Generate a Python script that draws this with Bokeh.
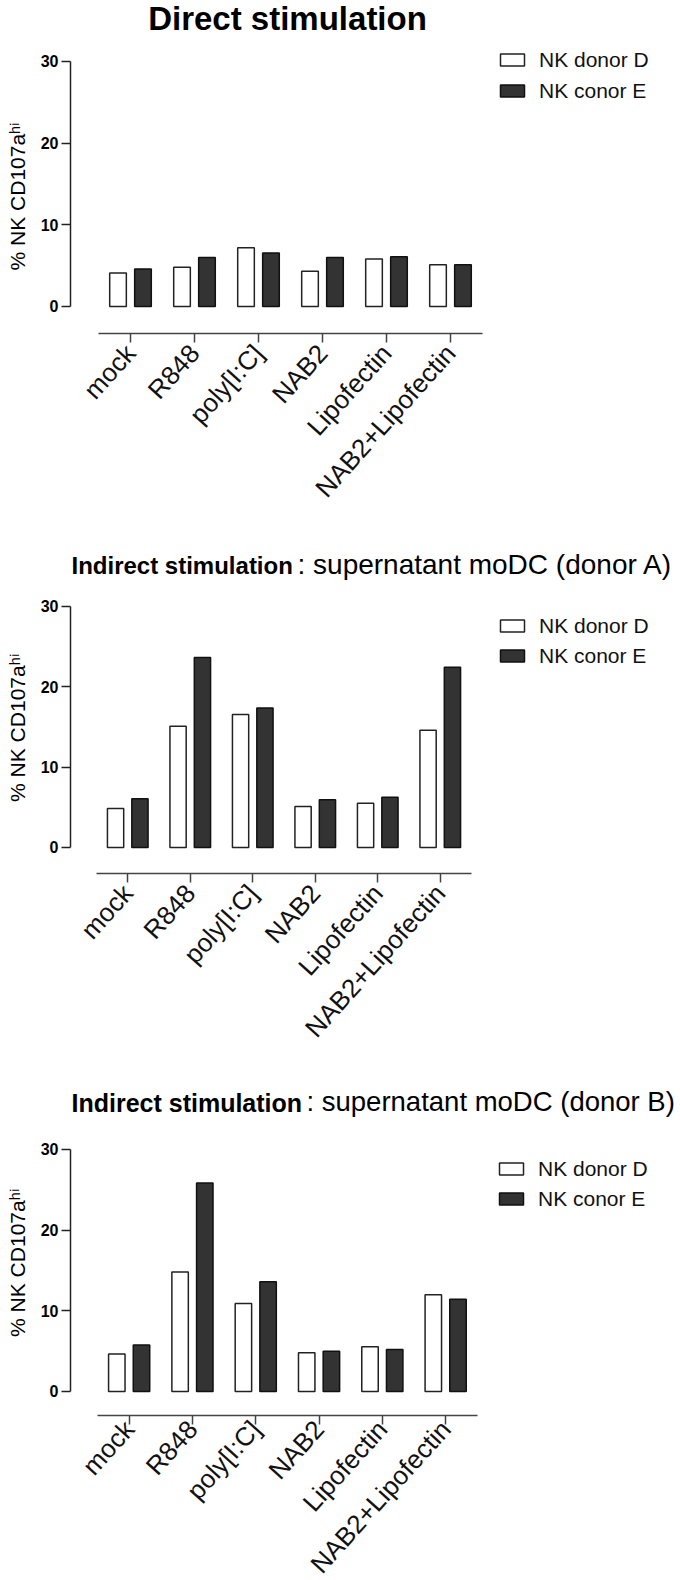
from math import pi
from bokeh.plotting import figure
from bokeh.models import Range1d, FixedTicker, Label, ColumnDataSource
from bokeh.transform import dodge
from bokeh.layouts import column
from bokeh.embed import file_html
from bokeh.resources import INLINE

# ---------------- data ----------------
categories = ["mock", "R848", "poly[I:C]", "NAB2", "Lipofectin", "NAB2+Lipofectin"]
series_names = ["NK donor D", "NK conor E"]
y_ticks = [0, 10, 20, 30]
y_label = "% NK CD107a\u02b0\u2071"

direct_donor_d = [4.1, 4.8, 7.2, 4.3, 5.8, 5.1]
direct_donor_e = [4.6, 6.0, 6.55, 6.0, 6.1, 5.1]

indirect_a_donor_d = [4.85, 15.1, 16.55, 5.1, 5.5, 14.6]
indirect_a_donor_e = [6.05, 23.65, 17.35, 5.95, 6.25, 22.45]

indirect_b_donor_d = [4.65, 14.8, 10.9, 4.8, 5.55, 12.0]
indirect_b_donor_e = [5.75, 25.85, 13.6, 5.0, 5.2, 11.45]

title_direct = "Direct stimulation"
title_bold = "Indirect stimulation"
title_a_rest = ": supernatant moDC (donor A)"
title_b_rest = ": supernatant moDC (donor B)"

FONT = "Liberation Sans"
DARK = "#333333"
LINE = "#222222"
W = 680
LEFT = 70
NBSP = "\u00a0"

# category centres on a numeric axis (same convention as a factor range)
centres = [i + 0.5 for i in range(len(categories))]


def make_panel(d_vals, e_vals, *, frame_h, x0, x1, y0, y1, bt, bb, lab_gap,
               label_pad, leg_x, leg_y, leg_spacing):
    src = ColumnDataSource(dict(x=centres, d=d_vals, e=e_vals))
    p = figure(
        x_range=Range1d(x0, x1), y_range=Range1d(y0, y1),
        frame_width=W - LEFT, frame_height=frame_h,
        min_border_left=LEFT, min_border_right=0,
        min_border_top=bt, min_border_bottom=bb,
        output_backend="svg", toolbar_location=None,
    )
    p.vbar(x=dodge("x", -0.195), top="d", width=0.26, source=src,
           fill_color="white", line_color=LINE, line_width=1.5,
           legend_label=series_names[0])
    p.vbar(x=dodge("x", 0.195), top="e", width=0.26, source=src,
           fill_color=DARK, line_color="#111111", line_width=1.5,
           legend_label=series_names[1])

    p.xgrid.visible = False
    p.ygrid.visible = False
    p.outline_line_color = None

    ya = p.yaxis[0]
    ya.ticker = FixedTicker(ticks=y_ticks)
    ya.bounds = (0, 30)
    ya.major_tick_out = 9
    ya.major_tick_in = 0
    ya.minor_tick_line_color = None
    ya.axis_line_width = 1.5
    ya.axis_line_color = LINE
    ya.major_tick_line_width = 1.5
    ya.major_tick_line_color = LINE
    ya.major_label_text_font = FONT
    ya.major_label_text_font_style = "bold"
    ya.major_label_text_font_size = "16px"
    ya.major_label_text_color = "black"
    ya.major_label_standoff = 3
    # trailing no-break spaces keep the label centred on the 0-30 axis span
    ya.axis_label = y_label + NBSP * label_pad
    ya.axis_label_text_font = FONT
    ya.axis_label_text_font_style = "normal"
    ya.axis_label_text_font_size = "21px"
    ya.axis_label_text_color = "black"
    ya.axis_label_standoff = 9

    xa = p.xaxis[0]
    xa.ticker = FixedTicker(ticks=centres)
    xa.major_label_overrides = {c: name for c, name in zip(centres, categories)}
    xa.bounds = (0, len(categories))
    xa.minor_tick_line_color = None
    xa.major_tick_out = 9
    xa.major_tick_in = 0
    xa.axis_line_width = 1.5
    xa.axis_line_color = "#444444"
    xa.major_tick_line_width = 1.5
    xa.major_tick_line_color = "#444444"
    xa.major_label_orientation = 48 * pi / 180
    xa.major_label_text_font = FONT
    xa.major_label_text_font_size = "26px"
    xa.major_label_text_color = "#111111"
    xa.major_label_standoff = lab_gap

    lg = p.legend[0]
    lg.glyph_width = 30
    lg.glyph_height = 15
    lg.label_height = 26
    lg.label_standoff = 12
    lg.spacing = leg_spacing
    lg.padding = 0
    lg.margin = 0
    lg.border_line_color = None
    lg.background_fill_alpha = 0
    lg.label_text_font = FONT
    lg.label_text_font_size = "21px"
    lg.label_text_color = "#111111"
    lg.location = (leg_x, leg_y)
    return p


def add_label(p, x, y, text, size, style, align):
    p.add_layout(Label(x=x, y=y, x_units="screen", y_units="screen", text=text,
                       text_font=FONT, text_font_size=size, text_font_style=style,
                       text_align=align, text_baseline="alphabetic", text_color="black"))


# Panel 1 : figure 0..512, frame 0..333 (page px)
p1 = make_panel(direct_donor_d, direct_donor_e, frame_h=333,
                x0=-0.4375, x1=9.094, y0=-3.31, y1=37.47, bt=0, bb=179, lab_gap=6,
                label_pad=10, leg_x=427, leg_y=229.5, leg_spacing=5)
add_label(p1, 217, 315, title_direct, "33px", "bold", "center")

# Panel 2 : figure 512..1048, frame 548..869
p2 = make_panel(indirect_a_donor_d, indirect_a_donor_e, frame_h=321,
                x0=-0.416, x1=9.344, y0=-3.24, y1=36.72, bt=36, bb=179, lab_gap=6,
                label_pad=5, leg_x=427, leg_y=204.5, leg_spacing=4)
add_label(p2, 1, 308, title_bold, "24px", "bold", "left")
add_label(p2, 227, 309.4, title_a_rest, "28px", "normal", "left")

# Panel 3 : figure 1048..1580, frame 1072..1407
p3 = make_panel(indirect_b_donor_d, indirect_b_donor_e, frame_h=335,
                x0=-0.4265, x1=9.21, y0=-2.975, y1=38.55, bt=24, bb=173, lab_gap=0,
                label_pad=5, leg_x=426, leg_y=203.5, leg_spacing=4)
add_label(p3, 1, 313, title_bold, "25px", "bold", "left")
add_label(p3, 236, 314.2, title_b_rest, "27.5px", "normal", "left")

layout = column(p1, p2, p3, spacing=0)
open("out.html", "w").write(file_html(layout, INLINE))
